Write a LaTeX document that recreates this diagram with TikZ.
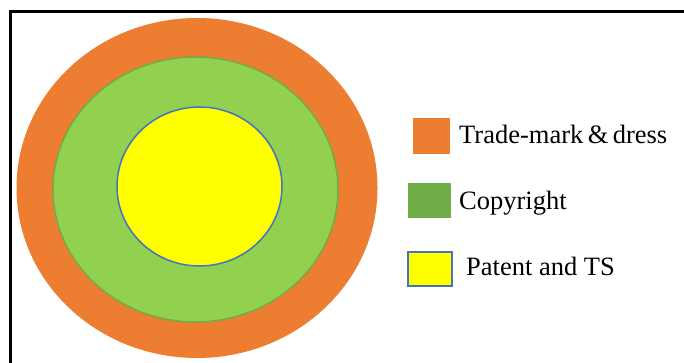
\documentclass[tikz,border=0pt]{standalone}
\usepackage{fontspec}
\setmainfont{Liberation Serif}
\usetikzlibrary{positioning}
\definecolor{markorange}{RGB}{237,125,49}
\definecolor{copygreen}{RGB}{146,208,80}
\definecolor{copyedge}{RGB}{112,173,71}
\definecolor{patyellow}{RGB}{255,255,0}
\definecolor{patblue}{RGB}{68,114,196}
\tikzset{
  keybox/.style={draw,line width=1.2pt,inner sep=0pt},
  keytext/.style={anchor=base west,inner sep=0pt,font=\fontsize{26.5}{31}\selectfont}
}

\begin{document}
\begin{tikzpicture}[x=1pt,y=1pt]
  \useasboundingbox (0,0) rectangle (684,363);
  % frame
  \draw[line width=3pt] (684,351) -- (10.5,351) -- (10.5,0);
  % rings
  \fill[markorange] (197,175) ellipse [x radius=180.5,y radius=170];
  \draw[copyedge,fill=copygreen,line width=1.5pt] (195.5,173.5) ellipse [x radius=142.5,y radius=132.5];
  \draw[patblue,fill=patyellow,line width=1.5pt] (199.5,176.5) ellipse [x radius=82.5,y radius=79.5];
  % legend
  \node[keybox,draw=markorange,fill=markorange,minimum width=35pt,minimum height=34pt] (markbox) at (431.5,227){};
  \node[keybox,draw=copyedge,fill=copyedge,minimum width=41pt,minimum height=33pt] (copybox) at (429.5,162.5){};
  \node[keybox,draw=patblue,fill=patyellow,minimum width=44pt,minimum height=34pt] (patbox) at (430,94){};
  \node[keytext] (marklabel) at (459,219){Trade-mark\,\&\,dress};
  \node[keytext] (copylabel) at (459,153){Copyright};
  \node[keytext] (patlabel) at (466,87){Patent and TS};
\end{tikzpicture}
\end{document}
